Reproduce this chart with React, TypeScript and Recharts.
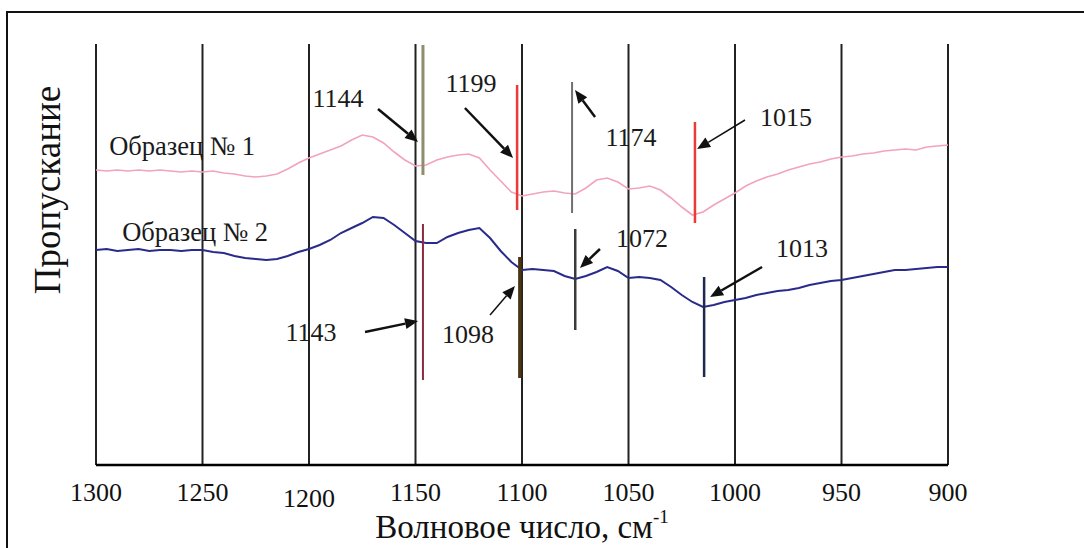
import React from 'react';
import { LineChart, Line, XAxis, YAxis, CartesianGrid, ReferenceLine, ReferenceDot } from 'recharts';

// wavenumber grid, cm-1 (x axis runs from 1300 down to 900)
const wavenumbers = [
  1300, 1295, 1290, 1285, 1280, 1275, 1270, 1265, 1260, 1255,
  1250, 1245, 1240, 1235, 1230, 1225, 1220, 1215, 1210, 1205,
  1200, 1195, 1190, 1185, 1180, 1175, 1170, 1165, 1160, 1155,
  1150, 1145, 1140, 1135, 1130, 1125, 1120, 1115, 1110, 1105,
  1100, 1095, 1090, 1085, 1080, 1075, 1070, 1065, 1060, 1055,
  1050, 1045, 1040, 1035, 1030, 1025, 1020, 1015, 1010, 1005,
  1000, 995, 990, 985, 980, 975, 970, 965, 960, 955,
  950, 945, 940, 935, 930, 925, 920, 915, 910, 905,
  900,
];

// transmittance, arbitrary units — Образец № 1 (pink)
const sample1 = [
  73.75, 73.5, 73.75, 73.5, 73.75, 73.5, 73.75, 73.5, 73.25, 73.5,
  73.25, 73.5, 73, 72.75, 72.25, 72, 72.25, 72.75, 74, 75.5,
  76.75, 77.75, 78.75, 79.75, 81.25, 82.5, 82, 80.5, 78.25, 76.25,
  74.75, 75, 76.25, 77, 77.5, 77.75, 76.75, 73.75, 71, 68.25,
  67.25, 67.75, 68.25, 68.5, 68, 67.75, 69.25, 71.25, 71.75, 70.75,
  69, 69.25, 69.75, 68.75, 66.75, 64.5, 62.5, 63.25, 65, 66.5,
  68, 69.75, 71, 72, 72.75, 73.75, 74.5, 75.25, 75.75, 76.5,
  77, 77.25, 77.75, 78, 78.5, 78.75, 79, 78.75, 79.5, 79.75,
  80,
];

// Образец № 2 (navy)
const sample2 = [
  53.75, 54, 53.5, 53.75, 54, 53.5, 53.75, 53.75, 53.5, 53.75,
  53.75, 53.25, 53, 52.25, 51.75, 51.5, 51.25, 51.5, 52.25, 53.25,
  54, 55, 56.25, 58, 59.25, 60.5, 62, 61.75, 60, 58,
  56, 55.5, 55.5, 57, 58, 58.75, 59.25, 56.75, 53.5, 50.75,
  48.75, 49, 48.75, 48.5, 47.25, 46.5, 47.25, 48.25, 49.5, 48.5,
  46.75, 47, 46.75, 46.25, 44.5, 42.5, 40.75, 39.5, 40, 40.75,
  41.25, 41.75, 42.5, 43, 43.5, 43.75, 44.25, 45, 45.5, 46,
  46.25, 46.75, 47.25, 47.75, 48.25, 48.75, 48.75, 49, 49.25, 49.5,
  49.5,
];

const xTicks = [1300, 1250, 1200, 1150, 1100, 1050, 1000, 950, 900];

// peak markers: label, position (cm-1), vertical extent
const peakLabels = ['1144', '1199', '1174', '1015', '1143', '1098', '1072', '1013'];
const peakPos = [1146.5, 1102.3, 1076.5, 1018.8, 1146.5, 1101, 1075, 1014.5];
const peakTop = [105, 95, 95.75, 85.75, 60.25, 52, 59, 47];
const peakBottom = [72.5, 63.75, 63, 60.5, 21.25, 21.75, 33.75, 22];
const peakColors = ['#8e8e6e', '#ec3a36', '#707070', '#ec3a36', '#8a2a40', '#4a3412', '#3a3a3a', '#1e2850'];
const peakWidths = [3, 2.5, 2, 2.5, 2, 3.5, 2.5, 2.5];

// where each label sits and where its arrow points
const labelPos = [[1186.4, 91.75], [1123.9, 95.5], [1048.8, 82], [976, 87], [1199.1, 33.25], [1125.3, 32.75], [1043.7, 56.75], [968.5, 54.25]];
const arrowFrom = [[1167.6, 89], [1126.8, 89.25], [1065.7, 87], [995.3, 86.25], [1173.7, 33.25], [1115, 37.5], [1063.4, 54], [987.3, 49.5]];
const arrowTo = [[1148.8, 80.75], [1104.2, 76.75], [1075.1, 93.75], [1017.8, 79], [1148.8, 36], [1103.3, 44.75], [1072.8, 49.25], [1011.7, 42]];
const arrowWidths = [2.5, 2.5, 2.5, 1.5, 2.5, 1.5, 2.5, 2.5];

const seriesNames = ['Образец № 1', 'Образец № 2'];
const seriesLabelPos = [[1259.6, 79.75], [1253.5, 58.25]];

const data = wavenumbers.map((wn, i) => ({ wn, s1: sample1[i], s2: sample2[i] }));

const serif = "'Liberation Serif', 'Times New Roman', serif";

const Arrow = (props: any) => {
  const { x1, y1, x2, y2, stroke, strokeWidth } = props;
  const a = Math.atan2(y2 - y1, x2 - x1);
  const L = 13;
  const hw = 5.5;
  const bx = x2 - L * Math.cos(a);
  const by = y2 - L * Math.sin(a);
  const px = -Math.sin(a) * hw;
  const py = Math.cos(a) * hw;
  return (
    <g>
      <line x1={x1} y1={y1} x2={bx} y2={by} stroke={stroke} strokeWidth={strokeWidth} />
      <polygon points={`${x2},${y2} ${bx + px},${by + py} ${bx - px},${by - py}`} fill={stroke} />
    </g>
  );
};

const TextAt = (text: string, size: number) => (p: any) => (
  <text x={p.cx} y={p.cy} textAnchor="middle" dominantBaseline="central" style={{ fontFamily: serif }} fontSize={size} fill="#1a1a1a">
    {text}
  </text>
);

const XTick = (p: any) => {
  const { x, y, payload } = p;
  const dy = payload.value === 1200 ? 40 : 34;
  return (
    <text x={x} y={y + dy} textAnchor="middle" style={{ fontFamily: serif }} fontSize={26} fill="#111">
      {payload.value}
    </text>
  );
};

const XTitle = (p: any) => {
  const { x, y, width } = p.viewBox;
  return (
    <text x={x + width / 2} y={y + 73} textAnchor="middle" style={{ fontFamily: serif }} fontSize={33} fill="#111">
      Волновое число, см
      <tspan fontSize={19} dy={-15}>-1</tspan>
    </text>
  );
};

export default function App() {
  return (
    <div style={{ position: 'absolute', left: 0, top: 0, width: 1084, height: 548, background: '#fff', fontFamily: serif }}>
      <div style={{ position: 'absolute', left: 6, top: 11, width: 1078, height: 537, borderTop: '2px solid #111', borderLeft: '2px solid #111' }} />
      <div
        style={{
          position: 'absolute', left: 47, top: 190, transform: 'translate(-50%, -50%) rotate(-90deg)',
          fontFamily: serif, fontSize: 37, color: '#111', whiteSpace: 'nowrap',
        }}
      >
        Пропускание
      </div>
      <LineChart width={1084} height={548} data={data} margin={{ top: 44, right: 136, bottom: 0, left: 96 }}>
        <CartesianGrid horizontal={false} stroke="#222" strokeWidth={2} />
        <XAxis
          dataKey="wn"
          type="number"
          domain={[900, 1300]}
          reversed
          ticks={xTicks}
          height={83}
          tickSize={0}
          tickLine={false}
          axisLine={{ stroke: '#000', strokeWidth: 2.5 }}
          tick={<XTick />}
          label={{ content: <XTitle /> }}
        />
        <YAxis hide domain={[0, 105.25]} />
        <Line dataKey="s1" stroke="#f2a3bd" strokeWidth={1.6} dot={false} isAnimationActive={false} />
        <Line dataKey="s2" stroke="#2a2a8c" strokeWidth={2} dot={false} isAnimationActive={false} />
        {peakLabels.map((lab, i) => (
          <ReferenceLine
            key={'m' + lab}
            ifOverflow="visible"
            segment={[{ x: peakPos[i], y: peakTop[i] }, { x: peakPos[i], y: peakBottom[i] }]}
            stroke={peakColors[i]}
            strokeWidth={peakWidths[i]}
          />
        ))}
        {peakLabels.map((lab, i) => (
          <ReferenceLine
            key={'a' + lab}
            ifOverflow="visible"
            segment={[{ x: arrowFrom[i][0], y: arrowFrom[i][1] }, { x: arrowTo[i][0], y: arrowTo[i][1] }]}
            stroke="#111"
            strokeWidth={arrowWidths[i]}
            shape={(p: any) => <Arrow {...p} />}
          />
        ))}
        {peakLabels.map((lab, i) => (
          <ReferenceDot key={'t' + lab} ifOverflow="visible" x={labelPos[i][0]} y={labelPos[i][1]} shape={TextAt(lab, 26)} />
        ))}
        {seriesNames.map((name, i) => (
          <ReferenceDot key={name} ifOverflow="visible" x={seriesLabelPos[i][0]} y={seriesLabelPos[i][1]} shape={TextAt(name, 26.5)} />
        ))}
      </LineChart>
    </div>
  );
}
